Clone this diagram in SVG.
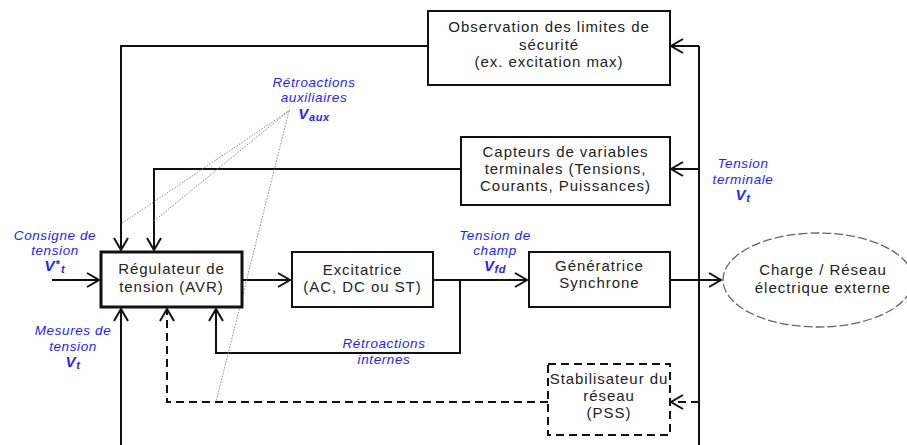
<svg xmlns="http://www.w3.org/2000/svg" width="907" height="445" viewBox="0 0 907 445">
  <defs>
    <style>
      .box { fill: #ffffff; stroke: #111111; stroke-width: 2; }
      .avr { fill: #ffffff; stroke: #111111; stroke-width: 3; }
      .pss { fill: #ffffff; stroke: #111111; stroke-width: 2; stroke-dasharray: 8 5; }
      .load { fill: #ffffff; stroke: #666666; stroke-width: 1.3; stroke-dasharray: 9 3; }
      .wire { fill: none; stroke: #111111; stroke-width: 2; }
      .dash { fill: none; stroke: #111111; stroke-width: 2; stroke-dasharray: 8 5; }
      .dot { fill: none; stroke: #888888; stroke-width: 1; stroke-dasharray: 1.5 1.5; }
      .t { font-family: "Liberation Sans", Arial, Helvetica, sans-serif; font-size: 15px; letter-spacing: 0.95px; fill: #222222; text-anchor: middle; }
      .lbl { font-family: "Liberation Sans", Arial, Helvetica, sans-serif; font-size: 13.5px; letter-spacing: 0.6px; font-style: italic; fill: #2323ff; text-anchor: middle; }
      .b { font-weight: bold; font-size: 15px; }
      .sub { font-weight: bold; font-size: 11px; }
    </style>
    <marker id="arr" viewBox="-14 -9 16 18" markerWidth="16" markerHeight="18" refX="0" refY="0" markerUnits="userSpaceOnUse" orient="auto">
      <path d="M-12,-7 L0,0 L-12,7" fill="none" stroke="#111111" stroke-width="2"/>
    </marker>
  </defs>

  <!-- connectors -->
  <g id="connectors">
    <path class="wire" d="M699,46 V445"/>
    <path class="wire" d="M699,46 H671" marker-end="url(#arr)"/>
    <path class="wire" d="M699,169 H671" marker-end="url(#arr)"/>
    <path class="dash" d="M699,402 H671" marker-end="url(#arr)"/>
    <path class="wire" d="M670,280 H721" marker-end="url(#arr)"/>
    <path class="wire" d="M428,46 H121 V250" marker-end="url(#arr)"/>
    <path class="wire" d="M461,169 H154 V250" marker-end="url(#arr)"/>
    <path class="wire" d="M52,280 H99" marker-end="url(#arr)"/>
    <path class="wire" d="M242,280 H290" marker-end="url(#arr)"/>
    <path class="wire" d="M433,280 H527" marker-end="url(#arr)"/>
    <path class="wire" d="M460,280 V353 H216 V309" marker-end="url(#arr)"/>
    <path class="wire" d="M121,445 V309" marker-end="url(#arr)"/>
    <path class="dash" d="M548,402 H167 V309" marker-end="url(#arr)"/>
    <path class="dot" d="M290,110 L121,224"/>
    <path class="dot" d="M290,110 L154,221"/>
    <path class="dot" d="M289,111 L216,402"/>
  </g>

  <g id="observation">
    <rect class="box" x="428" y="11" width="242" height="74"/>
    <text class="t" x="549" y="32">Observation des limites de</text>
    <text class="t" x="549" y="50">sécurité</text>
    <text class="t" x="549" y="67">(ex. excitation max)</text>
  </g>

  <g id="capteurs">
    <rect class="box" x="461" y="137" width="209" height="68"/>
    <text class="t" x="565.5" y="157">Capteurs de variables</text>
    <text class="t" x="565.5" y="174">terminales (Tensions,</text>
    <text class="t" x="565.5" y="191">Courants, Puissances)</text>
  </g>

  <g id="avr">
    <rect class="avr" x="101" y="252" width="141" height="55"/>
    <text class="t" x="171.5" y="274">Régulateur de</text>
    <text class="t" x="171.5" y="292">tension (AVR)</text>
  </g>

  <g id="excitatrice">
    <rect class="box" x="292" y="252" width="141" height="55"/>
    <text class="t" x="362.5" y="275">Excitatrice</text>
    <text class="t" x="362.5" y="292">(AC, DC ou ST)</text>
  </g>

  <g id="generatrice">
    <rect class="box" x="529" y="252" width="141" height="55"/>
    <text class="t" x="599.5" y="271">Génératrice</text>
    <text class="t" x="599.5" y="288">Synchrone</text>
  </g>

  <g id="charge">
    <ellipse class="load" cx="818" cy="280" rx="95" ry="47"/>
    <text class="t" x="823" y="275">Charge / Réseau</text>
    <text class="t" x="823" y="293">électrique externe</text>
  </g>

  <g id="pss">
    <rect class="pss" x="548" y="364" width="122" height="71"/>
    <text class="t" x="609" y="384">Stabilisateur du</text>
    <text class="t" x="609" y="401">réseau</text>
    <text class="t" x="609" y="418">(PSS)</text>
  </g>

  <g id="labels">
    <text class="lbl" x="314" y="87">Rétroactions</text>
    <text class="lbl" x="314" y="102">auxiliaires</text>
    <text class="lbl" x="314" y="119"><tspan class="b">V</tspan><tspan class="sub" dy="2">aux</tspan></text>

    <text class="lbl" x="55" y="240">Consigne de</text>
    <text class="lbl" x="55" y="255">tension</text>
    <text class="lbl" x="55" y="271"><tspan class="b">V</tspan><tspan class="sub" dy="-3">*</tspan><tspan class="sub" dy="5" dx="1">t</tspan></text>

    <text class="lbl" x="73" y="335">Mesures de</text>
    <text class="lbl" x="73" y="351">tension</text>
    <text class="lbl" x="73" y="367"><tspan class="b">V</tspan><tspan class="sub" dy="2">t</tspan></text>

    <text class="lbl" x="495" y="240">Tension de</text>
    <text class="lbl" x="495" y="255">champ</text>
    <text class="lbl" x="495" y="271"><tspan class="b">V</tspan><tspan class="sub" dy="2">fd</tspan></text>

    <text class="lbl" x="743" y="168">Tension</text>
    <text class="lbl" x="743" y="184">terminale</text>
    <text class="lbl" x="743" y="200"><tspan class="b">V</tspan><tspan class="sub" dy="2">t</tspan></text>

    <text class="lbl" x="384" y="348">Rétroactions</text>
    <text class="lbl" x="384" y="364">internes</text>
  </g>
</svg>
